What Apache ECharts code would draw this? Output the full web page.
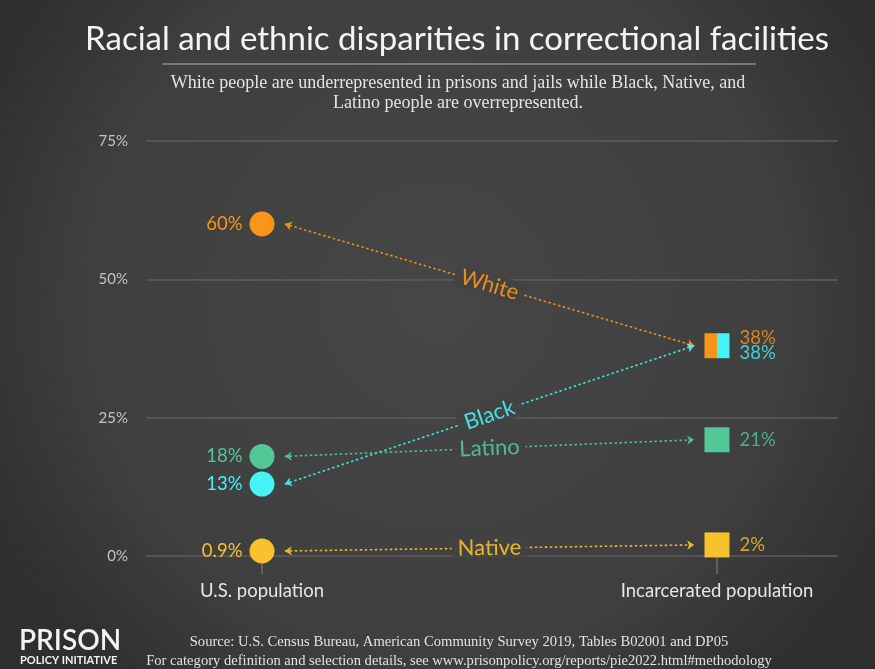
<!DOCTYPE html>
<html>
<head>
<meta charset="utf-8">
<title>Racial and ethnic disparities in correctional facilities</title>
<script src="https://cdn.jsdelivr.net/npm/echarts@6/dist/echarts.min.js"></script>
<style>
  html, body { margin: 0; padding: 0; background: #3c3c3c; }
  #chart { width: 875px; height: 669px; }
</style>
</head>
<body>
<div id="chart"></div>
<script>
// Share of each group in the general population vs. the incarcerated population (%)
const categories = ['U.S. population', 'Incarcerated population'];
const groups = ['White', 'Black', 'Latino', 'Native'];
const usShare = [60, 13, 18, 0.9];
const incarceratedShare = [38, 38, 21, 2];
const yTickValues = [0, 25, 50, 75];
const groupColors = ['#fa951a', '#46f2f6', '#52c798', '#f8c22c'];

const SANS = 'Lato, "Open Sans", sans-serif';
const SERIF = '"Liberation Serif", "DejaVu Serif", serif';
const GAP = 0.05;           // arrow ends stop short of the markers (x units)
const LABEL_BG = '#424242';

const fmt = v => v + '%';

// Circles for the general population
const usPoints = groups.map((g, i) => ({
  name: g,
  value: [0, usShare[i]],
  itemStyle: { color: groupColors[i], opacity: 1 },
  label: { color: groupColors[i] }
}));

// Squares for the incarcerated population; groups sharing a value split one square
const incPoints = [];
const incLabels = [];
groups.forEach((g, i) => {
  const same = groups.map((_, j) => j).filter(j => incarceratedShare[j] === incarceratedShare[i]);
  const k = same.indexOf(i);
  const n = same.length;
  const w = 25 / n;
  incPoints.push({
    name: g,
    value: [1, incarceratedShare[i]],
    symbol: 'rect',
    symbolSize: [w, 25],
    symbolOffset: [-12.5 + w * (k + 0.5), 0],
    itemStyle: { color: groupColors[i], opacity: 1 }
  });
  incLabels.push({
    name: g,
    value: [1, incarceratedShare[i]],
    label: {
      color: groupColors[i],
      offset: [0, n > 1 ? (k - (n - 1) / 2) * 15 : 0]
    }
  });
});

// Dotted two-way arrows between the two columns
const arrows = groups.map((g, i) => ({
  name: g,
  coords: [[GAP, usShare[i]], [1 - GAP, incarceratedShare[i]]],
  lineStyle: { color: groupColors[i] },
  label: { color: groupColors[i], formatter: g }
}));

const chart = echarts.init(document.getElementById('chart'), null, { renderer: 'canvas' });

chart.setOption({
  backgroundColor: {
    type: 'radial', x: 0.5, y: 0.45, r: 0.75,
    colorStops: [
      { offset: 0, color: '#464646' },
      { offset: 0.7, color: '#3f3f3f' },
      { offset: 1, color: '#2f2f2f' }
    ]
  },
  animation: false,
  textStyle: { fontFamily: SANS },
  grid: { left: 146, right: 37, top: 141, bottom: 113, outerBoundsMode: 'none' },
  xAxis: {
    type: 'value',
    min: -0.255,
    max: 1.266,
    splitLine: { show: false },
    axisLine: { show: false },
    axisTick: {
      show: true,
      customValues: [0, 1],
      length: 18,
      lineStyle: { color: '#6c6c6c', width: 1.5 }
    },
    axisLabel: {
      show: true,
      customValues: [0, 1],
      formatter: v => categories[Math.round(v)],
      margin: 26,
      color: '#e6e6e6',
      fontSize: 18.5,
      fontFamily: SANS
    }
  },
  yAxis: {
    type: 'value',
    min: 0,
    max: 75,
    interval: 25,
    axisLine: { show: false },
    axisTick: { show: false },
    axisLabel: {
      color: '#c4c4c4',
      fontSize: 15,
      margin: 18,
      fontFamily: SANS,
      formatter: v => (yTickValues.indexOf(v) >= 0 ? fmt(v) : '')
    },
    splitLine: { lineStyle: { color: '#5c5c5c', width: 1.5 } }
  },
  series: [
    {
      type: 'lines',
      coordinateSystem: 'cartesian2d',
      polyline: false,
      z: 3,
      symbol: ['arrow', 'arrow'],
      symbolSize: 7,
      lineStyle: { width: 1.6, type: [2.5, 2.5], opacity: 0.9 },
      label: {
        show: true,
        position: 'middle',
        distance: 0,
        verticalAlign: 'middle',
        fontSize: 22,
        fontFamily: SANS,
        backgroundColor: LABEL_BG,
        padding: [0, 6]
      },
      data: arrows
    },
    {
      type: 'scatter',
      name: categories[0],
      z: 4,
      symbol: 'circle',
      symbolSize: 25,
      itemStyle: { opacity: 1 },
      label: {
        show: true,
        position: 'left',
        distance: 7,
        fontSize: 18.5,
        fontFamily: SANS,
        formatter: p => fmt(p.value[1])
      },
      data: usPoints
    },
    {
      type: 'scatter',
      name: categories[1],
      z: 4,
      itemStyle: { opacity: 1 },
      data: incPoints
    },
    {
      type: 'scatter',
      name: 'incarcerated-labels',
      z: 4,
      symbol: 'rect',
      symbolSize: 25,
      itemStyle: { color: 'transparent' },
      label: {
        show: true,
        position: 'right',
        distance: 10,
        fontSize: 18.5,
        fontFamily: SANS,
        formatter: p => fmt(p.value[1])
      },
      data: incLabels
    }
  ],
  graphic: [
    {
      type: 'text', x: 457, y: 23,
      style: {
        text: 'Racial and ethnic disparities in correctional facilities',
        fill: '#f4f4f4', font: '33px ' + SANS, align: 'center'
      }
    },
    {
      type: 'line', shape: { x1: 162, y1: 64, x2: 756, y2: 64 },
      style: { stroke: '#8c8c8c', lineWidth: 1.5 }
    },
    {
      type: 'text', x: 458, y: 73,
      style: {
        text: 'White people are underrepresented in prisons and jails while Black, Native, and\nLatino people are overrepresented.',
        fill: '#e4e4e4', font: '18px ' + SERIF, align: 'center', lineHeight: 20
      }
    },
    {
      type: 'text', x: 19, y: 627,
      style: { text: 'PRISON', fill: '#f2f2f2', font: '600 28px ' + SANS }
    },
    {
      type: 'text', x: 20, y: 655,
      style: { text: 'POLICY INITIATIVE', fill: '#f2f2f2', font: 'bold 11px ' + SANS }
    },
    {
      type: 'text', x: 459, y: 633,
      style: {
        text: 'Source: U.S. Census Bureau, American Community Survey 2019, Tables B02001 and DP05\nFor category definition and selection details, see www.prisonpolicy.org/reports/pie2022.html#methodology',
        fill: '#e2e2e2', font: '14.6px ' + SERIF, align: 'center', lineHeight: 19
      }
    }
  ]
});
</script>
</body>
</html>
